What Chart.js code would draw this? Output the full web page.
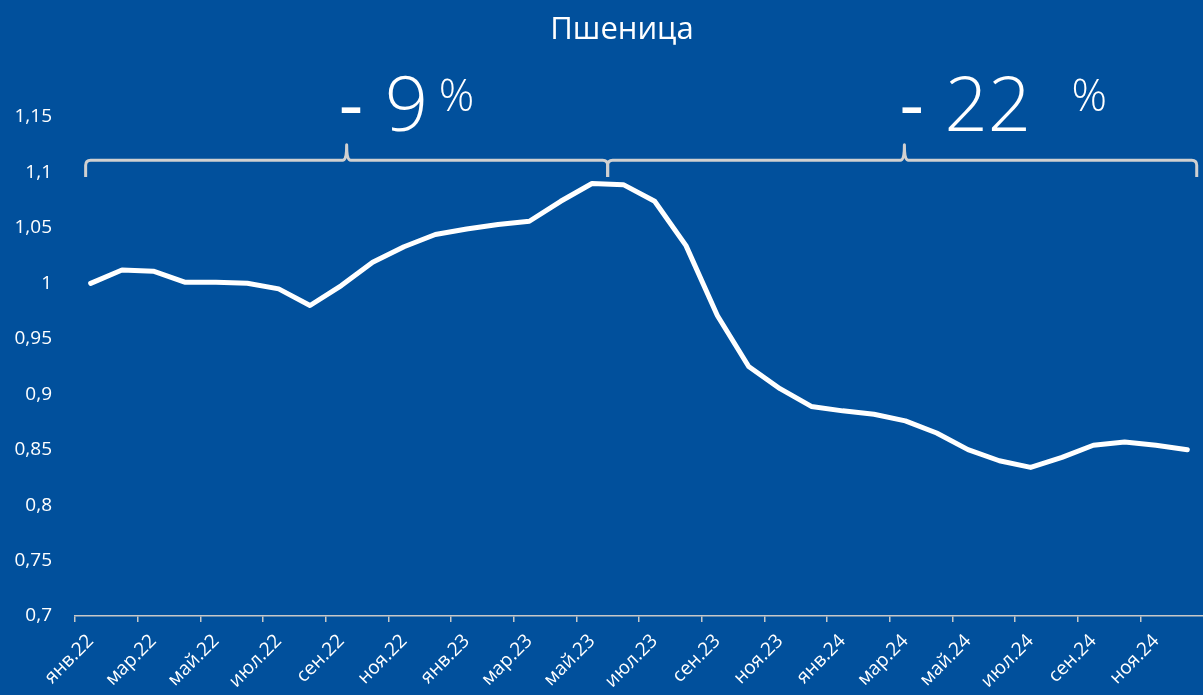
<!DOCTYPE html>
<html><head><meta charset="utf-8">
<script src="https://cdn.jsdelivr.net/npm/chart.js@4"></script>
<style>html,body{margin:0;padding:0;background:#01509c;}#wrap{width:1203px;height:695px;}</style>
</head><body><div id="wrap"><canvas id="c" width="1203" height="695"></canvas></div>
<script>
const categories = ['янв.22','фев.22','мар.22','апр.22','май.22','июн.22','июл.22','авг.22','сен.22','окт.22','ноя.22','дек.22',
 'янв.23','фев.23','мар.23','апр.23','май.23','июн.23','июл.23','авг.23','сен.23','окт.23','ноя.23','дек.23',
 'янв.24','фев.24','мар.24','апр.24','май.24','июн.24','июл.24','авг.24','сен.24','окт.24','ноя.24','дек.24'];
const wheat = [1.000,1.012,1.011,1.001,1.001,1.000,0.995,0.980,0.998,1.019,1.033,1.044,
 1.049,1.053,1.056,1.074,1.090,1.089,1.074,1.034,0.971,0.925,0.905,0.889,
 0.885,0.882,0.876,0.865,0.850,0.840,0.834,0.843,0.854,0.857,0.854,0.850];
const yTicks = [0.7,0.75,0.8,0.85,0.9,0.95,1,1.05,1.1,1.15];
const titleText = 'Пшеница';
const changes = [{start:-0.16,mid:8.17,end:16.5,value:'9'},{start:16.5,mid:25.97,end:35.3,value:'22'}];

const font = '"Open Sans","Segoe UI",sans-serif';
const bg = {id:'bg',beforeDraw(c){const x=c.ctx;x.save();x.fillStyle='#01509c';x.fillRect(0,0,c.width,c.height);x.restore();}};
const deco = {id:'deco',afterDraw(c){
  const ctx=c.ctx, xs=c.scales.x, ys=c.scales.y;
  ctx.save();
  ctx.fillStyle='#ffffff';ctx.textAlign='center';ctx.textBaseline='alphabetic';
  ctx.font='31px '+font;ctx.fillText(titleText,622,39);
  const yLine=ys.getPixelForValue(1.111), yEnd=ys.getPixelForValue(1.096), yTop=ys.getPixelForValue(1.125);
  ctx.strokeStyle='#d0d0d0';ctx.lineWidth=3;ctx.lineJoin='round';
  changes.forEach((ch,k)=>{
    const x0=xs.getPixelForValue(ch.start), xm=xs.getPixelForValue(ch.mid), x1=xs.getPixelForValue(ch.end);
    const r=5;
    ctx.beginPath();
    ctx.moveTo(x0,yEnd);ctx.lineTo(x0,yLine+r);ctx.quadraticCurveTo(x0,yLine,x0+r,yLine);
    ctx.lineTo(xm-4,yLine);ctx.quadraticCurveTo(xm,yLine,xm,yTop);ctx.quadraticCurveTo(xm,yLine,xm+4,yLine);
    ctx.lineTo(x1-r,yLine);ctx.quadraticCurveTo(x1,yLine,x1,yLine+r);ctx.lineTo(x1,yEnd);
    ctx.stroke();
    const base=ys.getPixelForValue(1.137);
    ctx.textAlign='left';
    ctx.font='400 76px '+font;
    ctx.fillText('-',xm + (k===0?-8:-5),base);
    ctx.font='300 76px '+font;
    ctx.fillText(ch.value,xm + (k===0?38:40),base);
    ctx.font='300 44px '+font;
    ctx.fillText('%',xm + (k===0?92:167),base-20);
  });
  ctx.restore();
}};

new Chart(document.getElementById('c'),{
  type:'line',
  data:{labels:categories,datasets:[{data:wheat,borderColor:'#ffffff',borderWidth:5,pointRadius:0,tension:0,borderCapStyle:'round',borderJoinStyle:'round',fill:false}]},
  options:{
    responsive:false,animation:false,
    layout:{padding:{top:117,right:0,left:0,bottom:0}},
    plugins:{legend:{display:false},tooltip:{enabled:false},title:{display:false}},
    scales:{
      x:{offset:true,
        afterFit:(s)=>{s.height=79;s.paddingRight=0;s.paddingLeft=0;},
        grid:{offset:true,drawOnChartArea:false,tickLength:6,color:(c)=>c.index%2===0?'#c8c8c8':'rgba(0,0,0,0)',lineWidth:1.5},
        border:{display:true,color:'#c8c8c8',width:1.5},
        ticks:{autoSkip:false,minRotation:45,maxRotation:45,color:'#ffffff',font:{size:19,family:font},padding:8,
          callback:(v,i)=>i%2===0?categories[i]:''}},
      y:{min:0.7,max:1.15,afterBuildTicks:(s)=>{s.ticks=yTicks.map(v=>({value:v}));},
        afterFit:(s)=>{s.width=75;},
        grid:{display:false,drawTicks:false},border:{display:false},
        ticks:{color:'#ffffff',padding:23,font:{size:19,family:font},callback:(v)=>String(v).replace('.',',')}}
    }
  },
  plugins:[bg,deco]
});
</script></body></html>
